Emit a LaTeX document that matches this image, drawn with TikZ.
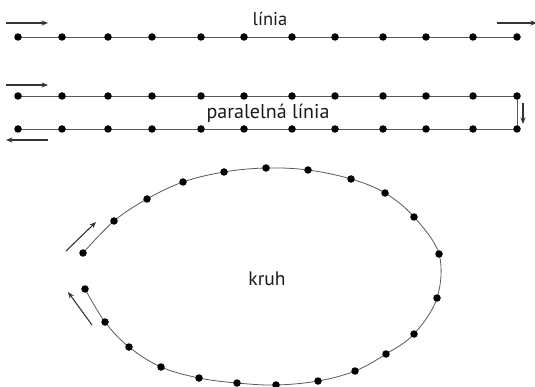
\documentclass[tikz,border=0pt]{standalone}
\usepackage{fontspec}
\setmainfont{PT Sans}
\usetikzlibrary{arrows.meta,backgrounds}
\begin{document}
\begin{tikzpicture}[x=1pt,y=-1pt,
  dot/.style={circle,fill=black,inner sep=0pt,minimum size=7.5pt},
  track/.style={draw=black!65,line width=0.8pt},
  dirarrow/.style={draw=black!80,line width=1.1pt,-{Stealth[length=6.5pt,width=5pt]}},
  lbl/.style={font=\fontsize{18.5}{22}\selectfont,anchor=base,text=black!90}]
\useasboundingbox (0,0) rectangle (535,387);
% line 1
\foreach \x [count=\i] in {18,62,108,152,201,244,292,335,383,426,473,517}{
  \node[dot] (a\i) at (\x,37) {};
  \node[dot] (b\i) at (\x,96) {};
  \node[dot] (c\i) at (\x,129) {};
}
\begin{scope}[on background layer]
\draw[track] (a1.center) -- (a12.center);
\draw[track] (b1.center) -- (b12.center) -- (c12.center) -- (c1.center);
\end{scope}
\node[lbl] (t1) at (270,25.5) {línia};
\node[lbl,font=\fontsize{20}{24}\selectfont] (t2) at (268,119) {paralelná línia};
\node[lbl,font=\fontsize{19.5}{23}\selectfont] (t3) at (267,285.5) {kruh};
% arrows
\coordinate (p1) at (6,23); \coordinate (q1) at (48,23);
\draw[dirarrow] (p1) -- (q1);
\coordinate (p2) at (497,23); \coordinate (q2) at (537,23);
\draw[dirarrow] (p2) -- (q2);
\coordinate (p3) at (6,85); \coordinate (q3) at (48,85);
\draw[dirarrow] (p3) -- (q3);
\coordinate (p4) at (48,140); \coordinate (q4) at (6,140);
\draw[dirarrow] (p4) -- (q4);
\coordinate (p5) at (523,103); \coordinate (q5) at (523,124);
\draw[dirarrow] (p5) -- (q5);
% ellipse
\foreach \x/\y [count=\i] in {83/253,114/221,147/199,183/182,224/172,266/168,308/170,351/179,385/193,414/217,439/254,437/298,414/334,386/354,355/371,318/381,276/385,237/383,199/378,161/367,129/347,105/322,85/289}{
  \node[dot] (e\i) at (\x,\y) {};
}
\begin{scope}[on background layer]
\draw[track] plot[smooth,tension=0.6] coordinates {(e1.center) (e2.center) (e3.center) (e4.center) (e5.center) (e6.center) (e7.center) (e8.center) (e9.center) (e10.center) (e11.center) (e12.center) (e13.center) (e14.center) (e15.center) (e16.center) (e17.center) (e18.center) (e19.center) (e20.center) (e21.center) (e22.center) (e23.center)};
\end{scope}
\coordinate (p6) at (66,251); \coordinate (q6) at (96,222);
\draw[dirarrow] (p6) -- (q6);
\coordinate (p7) at (92,325); \coordinate (q7) at (68,292);
\draw[dirarrow] (p7) -- (q7);
\end{tikzpicture}
\end{document}
